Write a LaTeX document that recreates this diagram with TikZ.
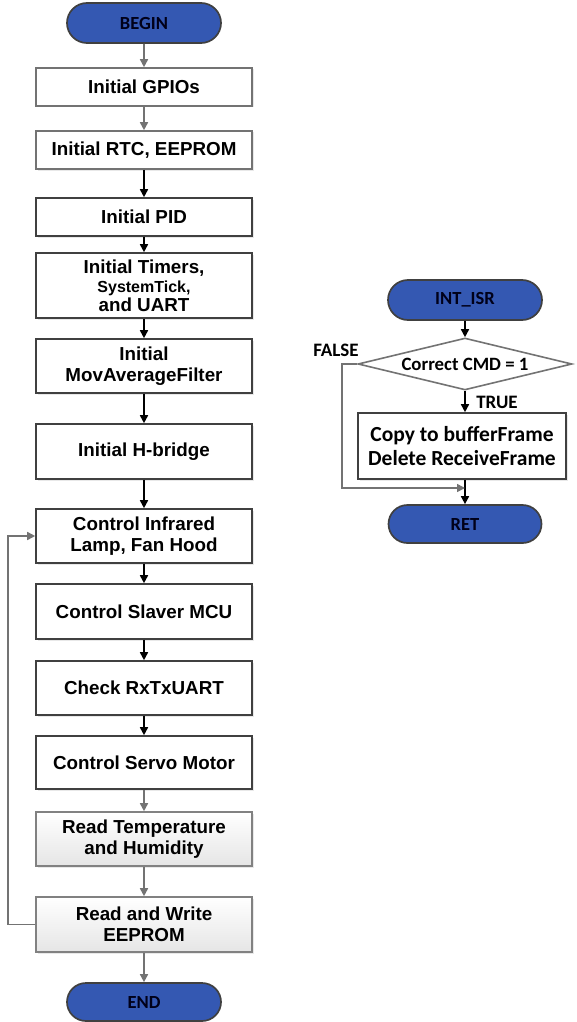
\documentclass[tikz,border=0pt]{standalone}
\usepackage{fontspec}
\setmainfont{Liberation Sans}
\newfontfamily\calfont{Carlito}
\usetikzlibrary{arrows.meta,shapes.geometric,shapes.misc,shadows}
\definecolor{termblue}{RGB}{52,88,178}
\definecolor{darkline}{RGB}{64,64,64}
\definecolor{grayline}{RGB}{115,115,115}
\tikzset{
  term/.style={rounded rectangle, draw=darkline, line width=1.7pt, fill=termblue,
    minimum width=154pt, minimum height=40pt, inner sep=0pt,
    font=\calfont\bfseries\fontsize{18.5}{20}\selectfont, text=black!90!blue},
  stepbox/.style={rectangle, draw=darkline, line width=1.6pt, fill=white,
    minimum width=216pt, inner sep=0pt, align=center,
    font=\bfseries\fontsize{18.8}{21}\selectfont,
    drop shadow={opacity=0.18, shadow xshift=1.5pt, shadow yshift=-1.5pt}},
  lightbox/.style={stepbox, draw=grayline},
  shadebox/.style={stepbox, draw=grayline!90, top color=white, bottom color=black!10},
  arr/.style={-{Triangle[width=8pt,length=8pt]}, line width=1.6pt, draw=black},
  garr/.style={arr, draw=grayline, -{Triangle[width=8pt,length=8pt,fill=grayline]}},
  lbl/.style={font=\calfont\bfseries\fontsize{19}{21}\selectfont, inner sep=0pt}
}
\begin{document}
\begin{tikzpicture}[x=1pt,y=-1pt]
\path[use as bounding box] (0,0) rectangle (576,1022);
% left column
\node[term] (begin) at (144,23) {BEGIN};
\node[lightbox, minimum height=38pt] (gpio) at (144,87) {Initial GPIOs};
\node[lightbox, minimum height=38pt] (rtc) at (144,150) {Initial RTC, EEPROM};
\node[stepbox, minimum height=38pt] (pid) at (144,217) {Initial PID};
\node[stepbox, minimum height=65pt, font=\bfseries\fontsize{18.8}{20}\selectfont] (timers) at (144,285.5)
  {Initial Timers,\\[-1pt]{\fontsize{16}{20}\selectfont SystemTick,}\\[-1pt]and UART};
\node[stepbox, minimum height=54pt] (mov) at (144,366) {Initial\\MovAverageFilter};
\node[stepbox, minimum height=55pt] (hb) at (144,451.5) {Initial H-bridge};
\node[stepbox, minimum height=54pt] (ir) at (144,536) {Control Infrared\\Lamp, Fan Hood};
\node[stepbox, minimum height=55pt] (slave) at (144,611.5) {Control Slaver MCU};
\node[stepbox, minimum height=54pt] (check) at (144,688) {Check RxTxUART};
\node[stepbox, minimum height=53pt] (servo) at (144,762.5) {Control Servo Motor};
\node[shadebox, minimum height=54pt] (temp) at (144,839) {Read Temperature\\and Humidity};
\node[shadebox, minimum height=55pt] (eeprom) at (144,924.5) {Read and Write\\EEPROM};
\node[term, minimum height=38pt] (end) at (144,1002) {END};

\draw[garr] (begin) -- (gpio);
\draw[garr] (gpio) -- (rtc);
\draw[arr] (rtc) -- (pid);
\draw[arr] (pid) -- (timers);
\draw[arr] (timers) -- (mov);
\draw[arr] (mov) -- (hb);
\draw[arr] (hb) -- (ir);
\draw[arr] (ir) -- (slave);
\draw[arr] (slave) -- (check);
\draw[arr] (check) -- (servo);
\draw[garr] (servo) -- (temp);
\draw[garr] (temp) -- (eeprom);
\draw[garr] (eeprom) -- (end);
\draw[garr] (eeprom.west) -- ++(-27,0) |- (ir.west);

% right column
\node[term] (isr) at (465,300) {INT\_ISR};
\node[diamond, draw=grayline, line width=1.6pt, fill=white, aspect=4.1,
  minimum width=214pt, minimum height=52pt, inner sep=0pt,
  font=\calfont\bfseries\fontsize{18.8}{21}\selectfont] (cmd) at (465,364) {Correct CMD = 1};
\node[stepbox, draw=darkline, minimum width=208pt, minimum height=66pt,
  font=\calfont\bfseries\fontsize{21.5}{24}\selectfont] (copy) at (462,446)
  {Copy to bufferFrame\\Delete ReceiveFrame};
\node[term, minimum width=153pt, minimum height=38pt] (ret) at (465,524) {RET};
\coordinate (merge) at (465,488);
\node[lbl] (false) at (336,350) {FALSE};
\node[lbl] (true) at (497,402) {TRUE};

\draw[arr] (isr) -- (cmd);
\draw[arr] (cmd.south) -- (cmd.south |- copy.north);
\draw[arr] (ret.north |- copy.south) -- (ret.north);
\draw[garr] (cmd.west) -- ++(-15,0) |- (merge);
\end{tikzpicture}
\end{document}
